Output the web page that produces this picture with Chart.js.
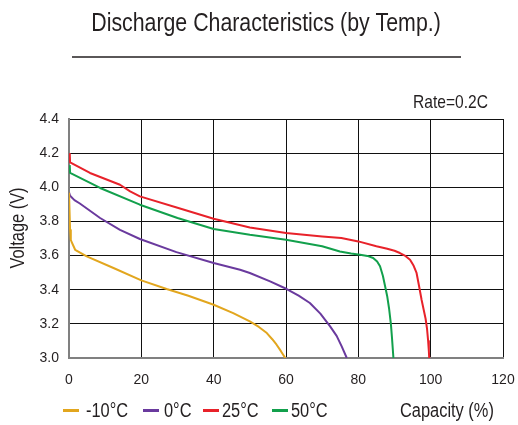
<!DOCTYPE html>
<html>
<head>
<meta charset="utf-8">
<script src="https://cdn.jsdelivr.net/npm/chart.js@4"></script>
<style>
html,body{margin:0;padding:0;background:#fff;}
#wrap{width:518px;height:425px;position:relative;}
</style>
</head>
<body>
<div id="wrap"><canvas id="dischargeChart" width="518" height="425"></canvas></div>
<script>
// capacity (%) and voltage (V)
const labels = ["-10°C","0°C","25°C","50°C"];
const colors = ["#e2a61e","#6a3a9e","#e8222a","#12a04c"];

const capMinus10 = [0,0.3,0.5,1.7,4.9,12.3,20,27,33,40,45.4,50,52.5,54.7,56.2,57.4,58.6,59.8];
const voltMinus10 = [3.97,3.75,3.69,3.634,3.595,3.527,3.455,3.404,3.365,3.312,3.263,3.214,3.182,3.146,3.11,3.078,3.04,3.0];

const cap0 = [0,0.3,1.5,3,8.6,14.1,19.6,29.7,40,47.3,50,55.6,60.2,63.5,66.6,69.5,72.2,74,75.4,76.8];
const volt0 = [3.97,3.95,3.925,3.905,3.82,3.751,3.697,3.62,3.556,3.517,3.498,3.449,3.404,3.365,3.322,3.26,3.185,3.13,3.068,3.0];

const cap25 = [0.2,0.3,5.8,14.1,16.9,19.6,30,40,50,60,70,75.3,80,85,88,90,91.5,93,94.3,95.3,96.1,96.8,97.5,98.1,98.6,99,99.3,99.5,99.6];
const volt25 = [4.2,4.146,4.084,4.015,3.976,3.947,3.88,3.816,3.765,3.732,3.712,3.703,3.683,3.655,3.64,3.628,3.615,3.598,3.576,3.54,3.498,3.42,3.34,3.28,3.23,3.17,3.1,3.04,3.0];

const cap50 = [0.2,0.3,8.6,19.6,30,40,50,60,70,74.9,78,80.5,82.5,84.1,85.2,86,86.8,87.4,88,88.5,89,89.3,89.5,89.7];
const volt50 = [4.13,4.084,3.996,3.898,3.82,3.756,3.722,3.693,3.655,3.624,3.612,3.605,3.598,3.586,3.565,3.537,3.48,3.42,3.36,3.29,3.2,3.12,3.06,3.0];

const xTicks = [0,20,40,60,80,100,120];
const yTicks = [3.0,3.2,3.4,3.6,3.8,4.0,4.2,4.4];

const FONT = '"Liberation Sans",Arial,sans-serif';
const TEXT = "#231f20";

function toPoints(xs, ys){
    return xs.map((x,i)=>({x:x, y:ys[i]}));
}

// the reference uses a condensed face, so squeeze regular text a bit
function narrowText(ctx, text, x, y, size, align){
    ctx.save();
    ctx.font = size + "px " + FONT;
    ctx.textAlign = align || "left";
    ctx.textBaseline = "middle";
    ctx.translate(x, y);
    ctx.scale(0.82, 1);
    ctx.fillText(text, 0, 0);
    ctx.restore();
}

let series = [[capMinus10,voltMinus10],[cap0,volt0],[cap25,volt25],[cap50,volt50]];
let datasets = series.map((s,i)=>({
    label:labels[i],
    data:toPoints(s[0],s[1]),
    borderColor:colors[i],
    backgroundColor:colors[i],
    borderWidth:2,
    borderJoinStyle:"round",
    pointRadius:0,
    tension:0,
    fill:false
}));

const decor = {
    id:"decor",
    afterDraw(chart){
        const ctx = chart.ctx;
        ctx.save();
        ctx.fillStyle = TEXT;
        narrowText(ctx, "Discharge Characteristics (by Temp.)", 266, 24, 26, "center");
        ctx.strokeStyle = TEXT;
        ctx.lineWidth = 1.3;
        ctx.beginPath();
        ctx.moveTo(72, 57);
        ctx.lineTo(461, 57);
        ctx.stroke();
        narrowText(ctx, "Rate=0.2C", 488, 103, 19, "right");
        // y title
        ctx.save();
        ctx.translate(18, 228);
        ctx.rotate(-Math.PI/2);
        narrowText(ctx, "Voltage (V)", 0, 0, 20, "center");
        ctx.restore();
        narrowText(ctx, "Capacity (%)", 400, 411, 20, "left");
        // legend
        const marks = [63,143,203,272];
        const texts = [86,164,222,291];
        labels.forEach((lab,i)=>{
            ctx.fillStyle = colors[i];
            ctx.fillRect(marks[i], 409, 16, 3);
            ctx.fillStyle = TEXT;
            narrowText(ctx, lab, texts[i], 411, 20, "left");
        });
        ctx.restore();
    }
};

new Chart(document.getElementById("dischargeChart"),{
    type:"line",
    data:{datasets:datasets},
    options:{
        responsive:false,
        animation:false,
        layout:{padding:{top:119,left:0,right:0,bottom:0}},
        plugins:{legend:{display:false},tooltip:{enabled:false}},
        scales:{
            x:{
                type:"linear",
                min:0,max:120,
                afterBuildTicks(scale){ scale.ticks = xTicks.map(v=>({value:v})); },
                afterFit(scale){
                    scale.height = 67;
                    scale.paddingLeft = 0;
                    scale.paddingRight = 15;
                },
                grid:{color:"#111",lineWidth:1,drawTicks:false},
                border:{color:"#808080",width:2},
                ticks:{padding:14,color:TEXT,font:{family:FONT,size:14},maxRotation:0}
            },
            y:{
                min:3.0,max:4.4,
                afterBuildTicks(scale){ scale.ticks = yTicks.map(v=>({value:v})); },
                afterFit(scale){ scale.width = 69; },
                grid:{color:"#111",lineWidth:1,drawTicks:false},
                border:{color:"#808080",width:2},
                ticks:{padding:10,color:TEXT,font:{family:FONT,size:14},callback:v=>v.toFixed(1)}
            }
        }
    },
    plugins:[decor]
});
</script>
</body>
</html>
